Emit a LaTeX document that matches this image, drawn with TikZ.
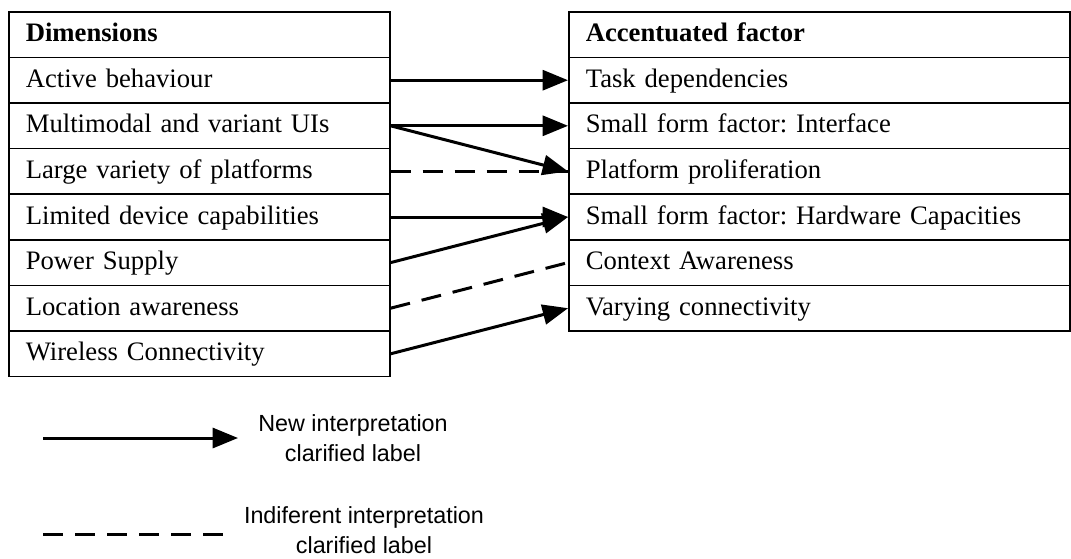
\documentclass[tikz,border=0pt]{standalone}
\usepackage{fontspec}
\setmainfont{Liberation Serif}
\newfontfamily\legendfont{Liberation Sans}
\usetikzlibrary{arrows.meta}
\frenchspacing
\tikzset{
  tabcell/.style={draw,line width=1.2pt,anchor=north west,minimum height=34.2pt,
    inner xsep=12.75pt,inner ysep=0pt,align=left,text height=15pt,text depth=4.5pt,
    font=\fontsize{20}{24}\selectfont},
  dimcell/.style={tabcell,text width=260.25pt},
  faccell/.style={tabcell,text width=350.25pt},
  solidarr/.style={line width=2.25pt,-{Triangle[length=19pt,width=15pt]}},
  dasharr/.style={line width=2.25pt,dash pattern=on 15pt off 9pt},
  legend/.style={align=center,font=\legendfont\fontsize{17.5}{22.5}\selectfont}
}
\begin{document}
\begin{tikzpicture}[x=0.75pt, y=-0.75pt]
\useasboundingbox (0,0) rectangle (1071,558);
\foreach \t [count=\i from 0] in {{\textbf{Dimensions}},Active behaviour,
    Multimodal and variant UIs,Large variety of platforms,
    Limited device capabilities,Power Supply,Location awareness,
    Wireless Connectivity}
{
  \node[dimcell] (d\i) at (8,11+45.6*\i) {\mbox{\t}};
}
\foreach \t [count=\i from 0] in {{\textbf{Accentuated factor}},Task dependencies,
    Small form factor: Interface,Platform proliferation,
    Small form factor: Hardware Capacities,Context Awareness,
    Varying connectivity}
{
  \node[faccell] (f\i) at (568,11+45.6*\i) {\mbox{\t}};
}

\draw[solidarr] (d1.east) -- (f1.west);
\draw[solidarr] (d2.east) -- (f2.west);
\draw[solidarr] (d2.east) -- (f3.west);
\draw[dasharr] (d3.east) -- (f3.west);
\draw[solidarr] (d4.east) -- (f4.west);
\draw[solidarr] (d5.east) -- (f4.west);
\draw[dasharr] (d6.east) -- (f5.west);
\draw[solidarr] (d7.east) -- (f6.west);

% legend
\coordinate (newa) at (43,438);
\coordinate (newb) at (238,438);
\draw[solidarr] (newa) -- (newb);
\node[legend] (newtext) at (353,438) {New interpretation\\clarified label};
\coordinate (inda) at (43,534);
\coordinate (indb) at (225,534);
\draw[dasharr] (inda) -- (indb);
\node[legend] (indtext) at (364,530) {Indiferent interpretation\\clarified label};
\end{tikzpicture}
\end{document}
